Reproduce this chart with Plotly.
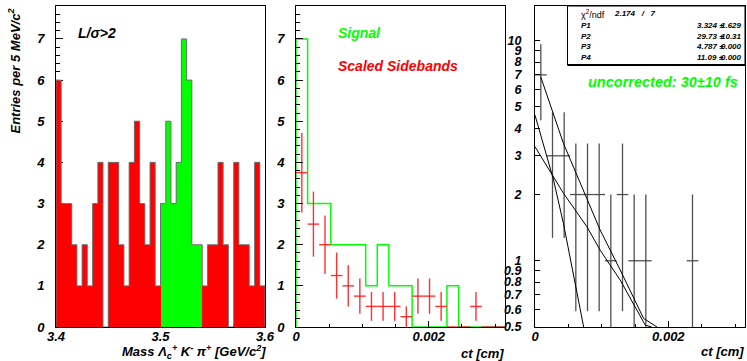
import plotly.graph_objects as go

# ---------------- data ----------------
# Left panel: mass histogram, 5 MeV bins from 3.40 to 3.60 GeV/c^2
mass_lo = 3.40
mass_bin = 0.005
mass_counts = [6, 3, 3, 2, 1, 2, 1, 3, 4, 0,
               4, 4, 2, 1, 4, 5, 3, 2, 4, 1,
               3, 5, 3, 4, 7, 6, 2, 2, 1, 2,
               2, 4, 2, 0, 4, 2, 2, 1, 4, 1]
signal_window = (3.50, 3.54)

# Middle panel: ct distributions, 18 bins from 0 to 0.00315 cm
ct_bin = 0.000175
signal_ct = [7, 3, 3, 2, 2, 2, 1, 2, 1, 1, 0, 0, 0, 1, 0, 0, 0, 0]
side_ct = [3.75, 2.5, 2.0, 1.25, 1.0, 0.75, 0.5, 0.5, 0.5, 0.25,
           0.75, 0.75, 0.5, 0, 0, 0.5, 0, 0]
side_ct_err = [0.97, 0.79, 0.71, 0.56, 0.5, 0.43, 0.35, 0.35, 0.35, 0.25,
               0.43, 0.43, 0.35, 0, 0, 0.35, 0, 0]

# Right panel: log-scale points (non-empty bins only)
fit_bins = [0, 1, 2, 3, 4, 5, 6, 7, 8, 9, 13]
fit_vals = [7, 3, 3, 2, 2, 2, 1, 2, 1, 1, 1]
fit_err = [2.65, 1.73, 1.73, 1.41, 1.41, 1.41, 1.0, 1.41, 1.0, 1.0, 1.0]

# fit curves
curveA_x = [0.0000857, 0.000426, 0.000777, 0.000977, 0.001278, 0.001629, 0.00183]
curveA_y = [6.86, 3.42, 1.92, 1.38, 0.908, 0.547, 0.5]
curveB_x = [0.0, 0.000275, 0.000426, 0.00073]
curveB_y = [4.59, 2.35, 1.48, 0.5]
curveC_x = [0.0, 0.000426, 0.000777, 0.000977, 0.001278, 0.001654, 0.00175]
curveC_y = [3.30, 2.03, 1.43, 1.118, 0.817, 0.51, 0.5]

stats_rows = [("P1", "3.324 ±", "1.629"), ("P2", "29.73 ±", "10.31"),
              ("P3", "4.787 ±", "0.000"), ("P4", "11.09 ±", "0.000")]

# ---------------- geometry helpers ----------------
W, H = 747, 361
def px(x):
    return x / W
def py(y):
    return 1 - y / H

RED = "#ff0000"
GREEN = "#00ff00"
FONT = "Liberation Sans"

fig = go.Figure()

# ---- left panel ----
n = len(mass_counts)
edges = [mass_lo + i * mass_bin for i in range(n + 1)]
centers = [mass_lo + (i + 0.5) * mass_bin for i in range(n)]
colors = [GREEN if signal_window[0] <= c <= signal_window[1] else RED for c in centers]
fig.add_trace(go.Bar(x=centers, y=mass_counts, width=mass_bin, marker=dict(color=colors, line=dict(width=0)),
                     xaxis="x", yaxis="y", showlegend=False, hoverinfo="skip"))
sx = [edges[0]] + edges[:-1] + [edges[-1], edges[-1]]
sy = [0] + mass_counts + [mass_counts[-1], 0]
fig.add_trace(go.Scatter(x=sx, y=sy, mode="lines", line=dict(color="#707070", width=1, shape="hv"),
                         xaxis="x", yaxis="y", showlegend=False, hoverinfo="skip"))

# ---- middle panel ----
m = len(signal_ct)
ct_edges = [i * ct_bin for i in range(m + 1)]
ct_centers = [(i + 0.5) * ct_bin for i in range(m)]
gx = [0] + ct_edges[:-1] + [ct_edges[-1], ct_edges[-1]]
gy = [0] + signal_ct + [signal_ct[-1], 0]
fig.add_trace(go.Scatter(x=gx, y=gy, mode="lines", line=dict(color=GREEN, width=1.5, shape="hv"),
                         xaxis="x2", yaxis="y2", showlegend=False, hoverinfo="skip"))
fig.add_trace(go.Scatter(x=ct_centers, y=side_ct, mode="markers", marker=dict(size=1, color=RED),
                         error_x=dict(type="constant", value=ct_bin / 2, color="rgb(255,50,50)", thickness=1.4, width=0),
                         error_y=dict(type="data", array=side_ct_err, color="rgb(255,50,50)", thickness=1.4, width=0),
                         xaxis="x2", yaxis="y2", showlegend=False, hoverinfo="skip"))

# ---- right panel ----
fx = [(b + 0.5) * ct_bin for b in fit_bins]
fig.add_trace(go.Scatter(x=fx, y=fit_vals, mode="markers", marker=dict(size=1, color="#444"),
                         error_x=dict(type="constant", value=ct_bin / 2, color="#505050", thickness=1.3, width=0),
                         error_y=dict(type="data", array=fit_err, color="#505050", thickness=1.3, width=0),
                         xaxis="x3", yaxis="y3", showlegend=False, hoverinfo="skip"))
for cx, cy in [(curveA_x, curveA_y), (curveB_x, curveB_y), (curveC_x, curveC_y)]:
    fig.add_trace(go.Scatter(x=cx, y=cy, mode="lines", line=dict(color="black", width=1),
                             xaxis="x3", yaxis="y3", showlegend=False, hoverinfo="skip"))

# ---------------- axes ----------------
tickfont = dict(family=FONT, size=13, color="black", weight="bold", style="italic")
ydom = [py(327), py(6)]

def xax(dom, rng, dtick, minor_dtick, tickvals=None, ticktext=None, layer="above traces"):
    d = dict(domain=dom, range=rng, showgrid=False, zeroline=False, showline=True, linecolor="black",
             linewidth=1, mirror=True, ticks="inside", ticklen=6, tickcolor="black", tickfont=tickfont,
             minor=dict(ticks="inside", ticklen=3, dtick=minor_dtick, tickcolor="black", showgrid=False),
             ticklabelstandoff=-3, layer=layer, fixedrange=True, automargin=False)
    if tickvals is not None:
        d.update(tickmode="array", tickvals=tickvals, ticktext=ticktext)
    else:
        d.update(tick0=rng[0], dtick=dtick)
    return d

def yax(dom, rng, anchor, layer="above traces"):
    return dict(domain=dom, range=rng, anchor=anchor, showgrid=False, zeroline=False, showline=True,
                linecolor="black", linewidth=1, mirror=True, ticks="inside", ticklen=7, tickcolor="black",
                tickfont=tickfont, tickmode="linear", tick0=0, dtick=1,
                minor=dict(ticks="inside", ticklen=4, dtick=0.2, tickcolor="black", showgrid=False),
                ticklabelstandoff=8, layer=layer, fixedrange=True, automargin=False)

fig.update_layout(
    xaxis=dict(xax([px(56), px(265)], [3.4, 3.6], 0.1, 0.01, layer="below traces"), anchor="y"),
    yaxis=yax(ydom, [0, 7.8], "x", layer="below traces"),
    xaxis2=dict(xax([px(296), px(505)], [0, 0.00315], None, 0.0005, [0, 0.002], ["0", "0.002"]), anchor="y2"),
    yaxis2=yax(ydom, [0, 7.8], "x2"),
    xaxis3=dict(xax([px(535), px(745)], [0, 0.00315], None, 0.0005, [0, 0.002], ["0", "0.002"]), anchor="y3"),
    yaxis3=dict(domain=ydom, range=[-0.30103, 1.158], type="log", anchor="x3", showgrid=False, zeroline=False,
                showline=True, linecolor="black", linewidth=1, mirror=True, ticks="inside", ticklen=5,
                tickcolor="black", tickfont=dict(tickfont, size=12.5), tickmode="array",
                tickvals=[0.5, 0.6, 0.7, 0.8, 0.9, 1, 2, 3, 4, 5, 6, 7, 8, 9, 10],
                ticktext=["0.5", "0.6", "0.7", "0.8", "0.9", "1", "2", "3", "4", "5", "6", "7", "8", "9", "10"],
                ticklabelstandoff=10, fixedrange=True, automargin=False),
    width=W, height=H, autosize=False, margin=dict(l=0, r=0, t=0, b=0, pad=0, autoexpand=False),
    paper_bgcolor="white", plot_bgcolor="white", bargap=0,
)

# ---------------- text ----------------
def ann(text, x, y, xanchor="left", yanchor="middle", size=14, color="black", angle=0, weight="bold", style="italic"):
    fig.add_annotation(text=text, x=px(x), y=py(y), xref="paper", yref="paper", xanchor=xanchor, yanchor=yanchor,
                       showarrow=False, textangle=angle, borderpad=0,
                       font=dict(family=FONT, size=size, color=color, weight=weight, style=style))

ann("Entries per 5 MeV/c<sup>2</sup>", 14, 8, xanchor="center", yanchor="top", size=13, angle=-90)
ann("Mass Λ<sub>c</sub><sup>+</sup> K<sup>-</sup> π<sup>+</sup> [GeV/c<sup>2</sup>]", 267, 352, xanchor="right", size=13)
ann("ct [cm]", 505, 353, xanchor="right", size=13)
ann("ct [cm]", 745, 351, xanchor="right", size=13)
ann("L/σ>2", 77, 33, size=14)
ann("Signal", 337, 33, size=14, color=GREEN)
ann("Scaled Sidebands", 337, 66, size=14, color=RED)
ann("uncorrected: 30±10 fs", 739, 82, xanchor="right", size=14.5, color=GREEN)

# stats box
fig.add_shape(type="rect", xref="paper", yref="paper", x0=px(567.5), x1=px(745), y0=py(65), y1=py(6),
              line=dict(color="black", width=1), fillcolor="white", layer="above")
fig.add_shape(type="line", xref="paper", yref="paper", x0=px(567.5), x1=px(745), y0=py(65), y1=py(65),
              line=dict(color="black", width=2), layer="above")
ann("χ<sup>2</sup>/ndf", 580, 14, size=9, weight="normal", style="normal")
ann("2.174   /   7", 613, 14, size=8)
for i, (lab, val, err) in enumerate(stats_rows):
    yy = 25.7 + i * 10.6
    ann(lab, 580, yy, size=8)
    ann(val, 725, yy, xanchor="right", size=8)
    ann(err, 743, yy, xanchor="right", size=8)

fig.write_html("out.html")
